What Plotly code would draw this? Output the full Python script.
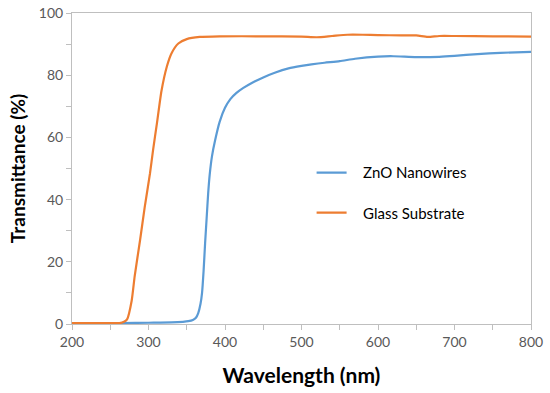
import plotly.graph_objects as go

# ZnO nanowires transmittance (%)
zno_wl = [200, 250, 265, 300, 330, 345, 352, 358, 362, 365, 368, 370, 372, 374, 376, 378, 380, 383, 387,
          393, 400, 407, 415, 424, 435, 450, 465, 483, 500, 513, 530, 550, 570, 600, 620, 650, 680, 700, 730, 760, 800]
zno_t = [0.3, 0.3, 0.3, 0.4, 0.5, 0.7, 0.9, 1.3, 2.0, 3.5, 6.5, 10, 17, 26, 34, 42, 48, 54, 59,
         65.0, 69.5, 72.3, 74.3, 75.9, 77.5, 79.3, 80.8, 82.2, 83.0, 83.5, 84.0, 84.5, 85.3, 86.0, 86.1, 85.8, 85.9, 86.2, 86.8, 87.2, 87.5]

# Glass substrate transmittance (%)
glass_wl = [200, 250, 262, 268, 272, 278, 282, 289, 295, 302, 306, 311, 317, 324, 330, 339, 350,
            367, 393, 450, 500, 520, 540, 560, 580, 600, 630, 650, 665, 680, 700, 750, 800]
glass_t = [0.3, 0.3, 0.3, 0.7, 1.5, 7.5, 15.5, 27, 37.5, 48.5, 56, 64.5, 75, 82.8, 87, 90.2, 91.6,
           92.3, 92.5, 92.5, 92.4, 92.2, 92.6, 93.0, 93.0, 92.9, 92.8, 92.8, 92.3, 92.6, 92.6, 92.5, 92.4]

x_ticks = [200, 300, 400, 500, 600, 700, 800]
y_ticks = [0, 20, 40, 60, 80, 100]

fig = go.Figure()
fig.add_trace(go.Scatter(x=zno_wl, y=zno_t, mode="lines", name="\u00a0\u00a0\u00a0ZnO Nanowires",
                         line=dict(color="#5B9BD5", width=2.2, shape="spline", smoothing=0.6),
                         legend="legend"))
fig.add_trace(go.Scatter(x=glass_wl, y=glass_t, mode="lines", name="\u00a0\u00a0\u00a0Glass Substrate",
                         line=dict(color="#ED7D31", width=2.2, shape="spline", smoothing=0.6),
                         legend="legend2"))

axis_common = dict(showline=True, linecolor="#bfbfbf", linewidth=1, mirror=True,
                   showgrid=False, zeroline=False, ticks="outside", ticklen=5, automargin=False,
                   tickcolor="#bfbfbf", tickfont=dict(family="Lato", size=14, color="#595959"))

fig.update_xaxes(range=[200, 800], tickvals=x_ticks,
                 minor=dict(dtick=50, ticks="outside", ticklen=5, tickcolor="#bfbfbf"),
                 title=dict(text="<b>Wavelength (nm)</b>", font=dict(family="Lato", size=21, color="#000000"),
                            standoff=19),
                 **axis_common)
fig.update_yaxes(range=[0, 100], tickvals=y_ticks,
                 minor=dict(dtick=10, ticks="outside", ticklen=5, tickcolor="#bfbfbf"),
                 title=dict(text="<b>Transmittance (%)</b>", font=dict(family="Lato", size=19, color="#000000"),
                            standoff=8),
                 **axis_common)

legend_font = dict(family="Lato", size=15, color="#000000")
fig.update_layout(
    width=550, height=393,
    margin=dict(l=72, r=19, t=13, b=69),
    plot_bgcolor="white", paper_bgcolor="white",
    showlegend=True,
    legend=dict(x=0.522, y=0.486, xanchor="left", yanchor="middle", font=legend_font,
                bgcolor="rgba(0,0,0,0)", borderwidth=0),
    legend2=dict(x=0.522, y=0.357, xanchor="left", yanchor="middle", font=legend_font,
                 bgcolor="rgba(0,0,0,0)", borderwidth=0),
)

# remove the default 8px page margin so the figure fills the window exactly
fig.write_html("out.html", config={"displayModeBar": False},
               post_script="document.body.style.margin='0px';")
